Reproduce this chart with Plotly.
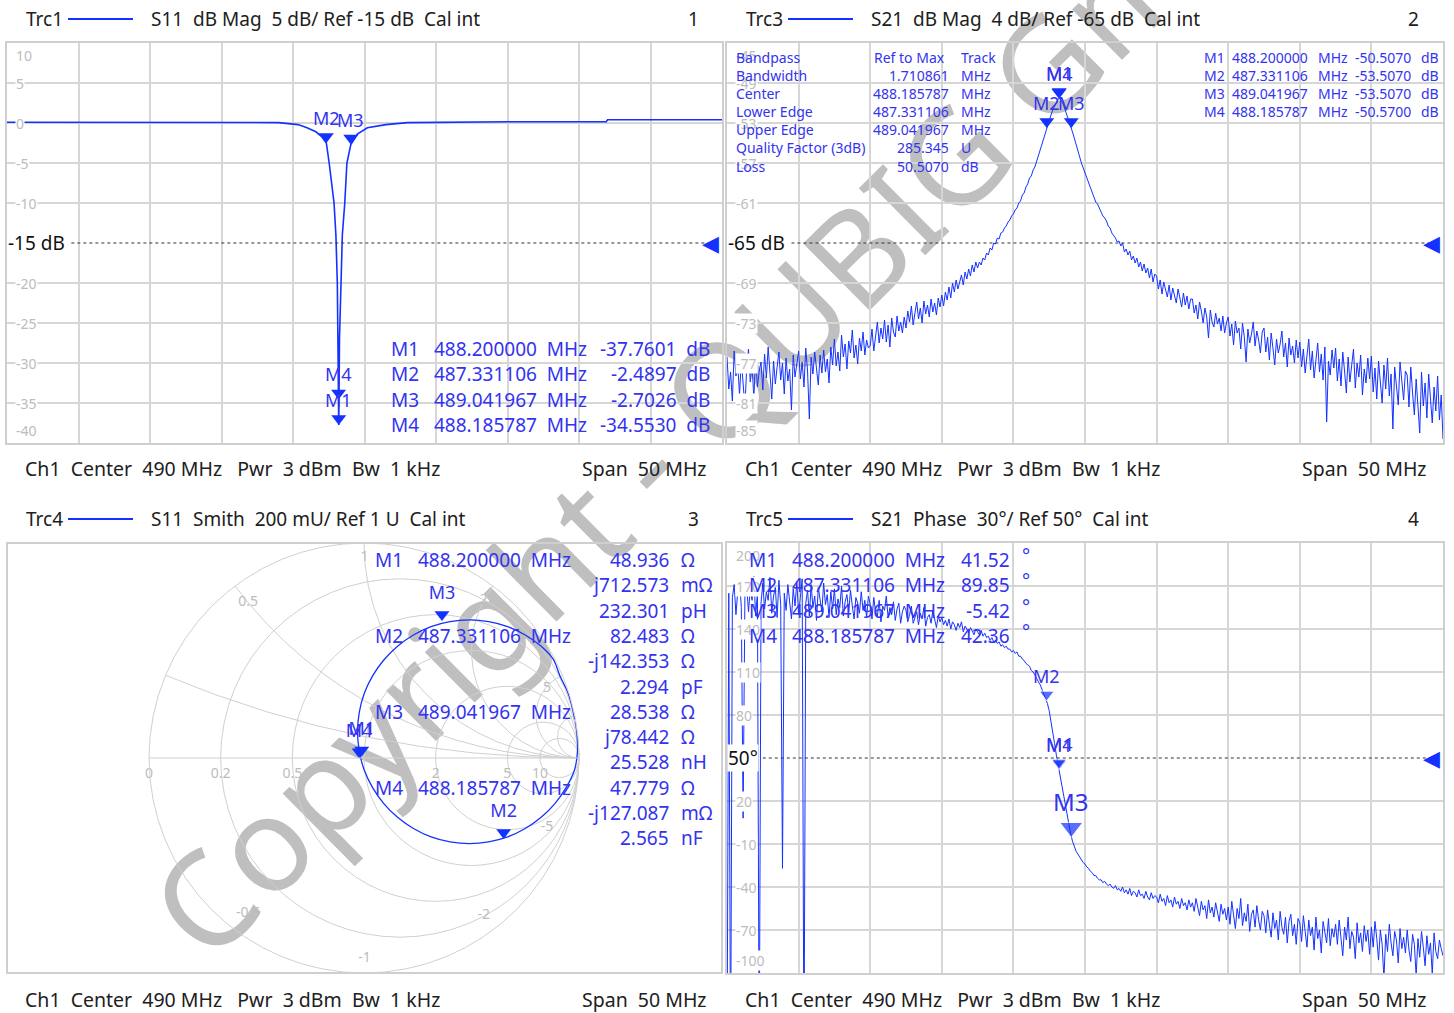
import numpy as np
import plotly.graph_objects as go

W, H = 1454, 1013
FONT = "Noto Sans, DejaVu Sans, sans-serif"
BLUE = "#1432ff"
TBLUE = "#3333f0"
TXT = "#202020"
GRID = "#d6d6d6"
FRAME = "#cfcfcf"
TICKC = "#bcbcbc"

# ---------------- sweep ----------------
F_START, F_STOP, N_PTS = 465.0, 515.0, 401
sweep_mhz = np.linspace(F_START, F_STOP, N_PTS)

# ---------------- Trc1: S11 dB Mag ----------------
s11_freq = [465.0, 475.0, 484.0, 485.35, 485.98, 486.6, 487.0, 487.331106, 487.53, 487.87,
            488.0, 488.1, 488.15, 488.185787, 488.2, 488.25, 488.35, 488.45, 488.62, 488.77,
            489.041967, 489.5, 490.2, 491.5, 493.0, 500.0, 506.9, 507.0, 515.0]
s11_db = [0.10, 0.10, 0.05, -0.20, -0.60, -1.10, -1.70, -2.4897, -5.0, -10.0,
          -14.0, -20.0, -27.0, -34.553, -37.7601, -27.0, -19.0, -14.0, -10.0, -5.0,
          -2.7026, -1.40, -0.60, -0.20, 0.05, 0.15, 0.15, 0.40, 0.40]

# ---------------- Trc3: S21 dB Mag (401 sweep points) ----------------
s21_db = [
    -76.4, -79.6, -77.9, -80.8, -75.8, -78.3, -77.1, -80.2, -76.7, -79.0, -81.4, -77.5, -75.6, -78.9, -77.2, -80.5, -76.3, -79.4, -77.8, -76.9,
    -79.7, -76.1, -78.5, -75.4, -78.0, -80.6, -76.8, -79.1, -77.4, -75.9, -78.7, -77.0, -80.1, -76.5, -78.8, -77.6, -81.7, -76.2, -78.4, -77.3,
    -75.8, -78.6, -76.9, -79.4, -75.5, -77.8, -82.6, -76.4, -78.1, -75.9, -77.5, -79.2, -76.2, -78.0, -75.7, -77.9, -76.6, -79.0, -75.4, -77.2,
    -74.6, -77.3, -75.9, -77.8, -74.2, -76.4, -75.1, -77.6, -74.8, -76.0, -73.7, -76.5, -75.2, -77.1, -74.5, -75.8, -73.9, -76.2, -74.7, -75.5,
    -75.3, -73.6, -75.8, -74.1, -72.9, -75.0, -73.5, -74.6, -72.7, -74.9, -73.2, -75.4, -72.5, -73.9, -74.4, -72.3, -73.8, -72.9, -74.0, -72.4,
    -73.5, -71.8, -72.9, -71.3, -73.2, -72.0, -70.9, -72.6, -71.5, -73.0, -70.8, -72.1, -71.2, -72.4, -70.6, -71.9, -71.0, -72.2, -70.5, -71.4,
    -70.2, -71.3, -69.9, -70.7, -69.4, -70.5, -69.0, -69.9, -68.7, -69.6, -68.9, -68.2, -69.2, -67.9, -68.6, -67.6, -68.3, -67.2, -67.9, -66.9,
    -67.5, -66.9, -67.2, -66.5, -66.7, -66.0, -66.2, -65.5, -65.7, -65.0, -65.1, -64.5, -64.6, -64.0, -63.9, -63.5, -63.3, -62.9, -62.7, -62.3,
    -62.1, -61.7, -61.5, -61.0, -60.8, -60.2, -60.0, -59.4, -59.1, -58.5, -58.3, -57.7, -57.4, -56.8, -56.3, -55.8, -55.2, -54.6, -54.0, -53.3,
    -52.7, -52.2, -51.7, -51.3, -50.9, -50.6, -50.55, -50.8, -51.2, -51.7, -52.2, -52.7, -53.3, -53.9, -54.5, -55.2, -55.8, -56.4, -57.0, -57.5,
    -58.0, -58.6, -59.0, -59.6, -60.0, -60.4, -60.9, -61.1, -61.5, -61.9, -62.3, -62.5, -62.8, -63.3, -63.5, -64.0, -64.2, -64.5, -64.9, -64.8,
    -65.3, -65.0, -65.9, -65.6, -66.2, -65.8, -66.7, -66.3, -67.0, -66.5, -67.4, -66.9, -67.8, -67.1, -68.0, -67.5, -68.5, -67.6, -68.9, -68.1,
    -68.3, -69.6, -68.7, -70.1, -68.9, -69.8, -70.4, -69.2, -70.7, -69.5, -70.2, -71.0, -69.6, -70.5, -71.4, -70.0, -71.2, -70.3, -71.6, -70.6,
    -70.6, -72.0, -71.2, -72.6, -70.9, -71.8, -73.0, -71.5, -72.4, -74.5, -71.7, -72.9, -73.4, -72.0, -73.1, -72.5, -73.8, -72.3, -74.0, -73.0,
    -72.4, -74.3, -73.1, -75.2, -72.8, -74.0, -73.5, -75.6, -73.0, -74.4, -76.9, -73.6, -75.0, -74.1, -72.9, -75.3, -73.8, -74.7, -76.0, -73.9,
    -73.5, -75.9, -74.4, -76.7, -74.0, -75.5, -77.2, -74.6, -76.0, -75.1, -73.8, -76.4, -75.0, -77.4, -74.5, -76.2, -75.3, -77.0, -74.7, -76.5,
    -74.9, -77.4, -75.6, -78.0, -76.2, -74.6, -77.7, -75.8, -78.5, -76.4, -75.0, -77.9, -76.1, -78.7, -75.4, -82.9, -76.8, -78.2, -75.7, -77.5,
    -75.5, -78.8, -76.6, -79.3, -75.9, -77.8, -80.0, -76.4, -78.9, -77.2, -75.6, -79.5, -77.0, -78.4, -76.2, -80.2, -77.6, -79.0, -76.5, -78.6,
    -76.3, -79.9, -77.5, -80.6, -76.8, -78.9, -81.0, -77.2, -79.6, -76.5, -80.3, -78.1, -83.6, -77.4, -79.8, -81.2, -76.9, -79.3, -80.7, -77.8,
    -78.2, -81.4, -77.4, -80.0, -82.2, -78.6, -80.9, -84.0, -77.9, -81.3, -79.0, -82.5, -78.1, -80.6, -83.0, -79.4, -81.8, -78.3, -82.7, -80.2,
    -84.6]

# ---------------- Trc5: S21 Phase (deg, 401 sweep points) ----------------
s21_phase = [
    -175, 165, -176, 162, 171, 150, 166, 175, 155, 8, 163, 170, 152, 168, 160, 177, 149, 165, -170, 158,
    172, 154, 166, 160, 176, 151, 163, 169, 148, 174, 157, -27, 165, 153, 171, 160, 147, 168, 156, 173,
    150, 162, 175, -172, 158, 167, 149, 171, 155, 163, 146, 169, 159, 152, 172, 157, 164, 148, 166, 154,
    168, 150, 161, 155, 170, 149, 159, 164, 152, 167, 156, 147, 162, 158, 151, 166, 153, 160, 148, 163,
    157, 147, 162, 152, 149, 160, 145, 156, 153, 163, 148, 155, 150, 159, 146, 154, 158, 144, 152, 156,
    153, 145, 150, 156, 144, 149, 152, 143, 151, 147, 155, 142, 148, 150, 144, 153, 146, 141, 149, 145,
    148, 143, 146, 142, 147, 140, 145, 143, 139, 144, 141, 145, 138, 142, 140, 137, 141, 138, 136, 140,
    138, 136, 139, 135, 137, 134, 135, 132, 134, 131, 132, 130, 131, 128, 129, 127, 128, 126, 126, 124,
    125, 123, 124, 121, 121, 119, 118, 116, 115, 114, 111, 110, 108, 105, 103, 101, 98, 95, 92, 88,
    83, 76, 68, 60, 52, 45, 38, 31, 24, 17, 10, 3, -3, -8, -12, -15, -17, -19, -21, -23,
    -24, -26, -27, -29, -30, -32, -32, -34, -35, -35, -37, -36, -38, -39, -38, -40, -41, -39, -42, -41,
    -43, -40, -44, -42, -45, -41, -46, -43, -44, -47, -42, -46, -45, -48, -43, -47, -49, -44, -48, -46,
    -47, -51, -45, -50, -48, -53, -46, -51, -49, -54, -47, -52, -50, -55, -48, -53, -51, -56, -49, -54,
    -51, -57, -48, -55, -60, -50, -56, -53, -62, -49, -58, -54, -61, -51, -57, -64, -52, -59, -55, -63,
    -54, -66, -50, -60, -69, -55, -62, -48, -67, -58, -64, -52, -71, -59, -56, -68, -53, -63, -70, -57,
    -60, -72, -56, -66, -75, -58, -69, -63, -77, -57, -68, -73, -61, -79, -64, -59, -74, -66, -80, -62,
    -65, -78, -60, -71, -82, -63, -74, -68, -84, -61, -76, -70, -86, -64, -73, -79, -62, -81, -69, -75,
    -66, -80, -63, -74, -88, -68, -77, -61, -83, -71, -75, -90, -65, -79, -72, -85, -67, -78, -70, -87,
    -68, -82, -64, -76, -91, -70, -80, -104, -73, -85, -66, -79, -88, -71, -77, -93, -69, -83, -75, -86,
    -70, -84, -92, -73, -80, -102, -76, -89, -71, -82, -95, -74, -87, -79, -101, -72, -85, -90, -77, -83,
    -88]

# ---------------- Trc4: S11 Smith (reflection coefficient) ----------------
smith_gamma_re = [0.983, 0.990, 0.993, 0.979, 0.940, 0.888, 0.824, 0.750, 0.668, 0.580,
                  0.490, 0.400, 0.312, 0.230, 0.156, 0.092, 0.040, 0.001, -0.022, -0.030,
                  -0.022, 0.001, 0.040, 0.092, 0.156, 0.230, 0.312, 0.400, 0.490, 0.580,
                  0.668, 0.750, 0.824, 0.880, 0.912, 0.950, 0.972, 0.980]
smith_gamma_im = [0.170, 0.120, 0.032, -0.056, -0.138, -0.212, -0.276, -0.328, -0.367, -0.390,
                  -0.398, -0.390, -0.367, -0.328, -0.276, -0.212, -0.138, -0.056, 0.032, 0.122,
                  0.212, 0.300, 0.382, 0.456, 0.520, 0.572, 0.611, 0.634, 0.642, 0.634,
                  0.611, 0.572, 0.520, 0.460, 0.380, 0.300, 0.220, 0.180]
Z0 = 50.0

# ---------------- markers ----------------
mk_names = ["M1", "M2", "M3", "M4"]
mk_freq = [488.200000, 487.331106, 489.041967, 488.185787]
mk_freq_txt = ["488.200000", "487.331106", "489.041967", "488.185787"]
mk_s11_db = [-37.7601, -2.4897, -2.7026, -34.5530]
mk_s21_db = [-50.5070, -53.5070, -53.5070, -50.5700]
mk_phase = [41.52, 89.85, -5.42, 42.36]
mk_z_re = [48.936, 82.483, 28.538, 47.779]
mk_z_im = [0.712573, -142.353, 78.442, -0.127087]
mk_z_im_txt = ["j712.573", "-j142.353", "j78.442", "-j127.087"]
mk_z_im_unit = ["mΩ", "Ω", "Ω", "mΩ"]
mk_lc_txt = ["232.301", "2.294", "25.528", "2.565"]
mk_lc_unit = ["pH", "pF", "nH", "nF"]

bp_labels = ["Bandpass", "Bandwidth", "Center", "Lower Edge", "Upper Edge", "Quality Factor (3dB)", "Loss"]
bp_values = ["Ref to Max", "1.710861", "488.185787", "487.331106", "489.041967", "285.345", "50.5070"]
bp_units = ["Track", "MHz", "MHz", "MHz", "MHz", "U", "dB"]

# axis settings
y1_ticks = [10, 5, 0, -5, -10, -15, -20, -25, -30, -35, -40]
y2_ticks = [-45, -49, -53, -57, -61, -65, -69, -73, -77, -81, -85]
y3_ticks = [200, 170, 140, 110, 80, 50, 20, -10, -40, -70, -100]
refs = [-15, -65, 50]

smith_real_lbl = [0, 0.2, 0.5, 2, 5, 10]
smith_imag_lbl_re = [0.065, 0.068, 0.21, 1.33, 0.065, 0.068, 0.21, 1.33]
smith_imag_lbl_im = [0.5, 1.0, 2.0, 5.1, -0.5, -1.0, -2.0, -5.1]
smith_imag_lbl_txt = ["0.5", "1", "2", "5", "-0.5", "-1", "-2", "-5"]

WATERMARK = "Copyright - QUBIG GmbH"

# ======================================================================
fig = go.Figure()
annotations = []
shapes = []


def px(x):
    return x / W


def py(y):
    return 1 - y / H


def ann(x, y, text, size=17, color=TXT, xanchor="left", yanchor="middle", **kw):
    annotations.append(dict(x=px(x), y=py(y), xref="paper", yref="paper", text=text,
                            showarrow=False, xanchor=xanchor, yanchor=yanchor,
                            font=dict(family=FONT, size=size, color=color), **kw))


# watermark: label of an invisible diagonal line, drawn below the traces
wm_cx, wm_cy, wm_ang = 739, 381, 44.8
dxw, dyw = 40 * np.cos(np.radians(wm_ang)), 40 * np.sin(np.radians(wm_ang))
shapes.append(dict(type="line", xref="paper", yref="paper", layer="below",
                   x0=px(wm_cx - dxw), y0=py(wm_cy + dyw), x1=px(wm_cx + dxw), y1=py(wm_cy - dyw),
                   line=dict(color="rgba(0,0,0,0)", width=0),
                   label=dict(text=WATERMARK, textangle=-wm_ang, textposition="middle",
                              yanchor="middle", xanchor="center", padding=0,
                              font=dict(family=FONT, size=132, color="#bfbfbf"))))

# traces
fig.add_trace(go.Scatter(x=s11_freq, y=s11_db, mode="lines", line=dict(color=BLUE, width=1.6),
                         xaxis="x", yaxis="y", hoverinfo="skip"))
fig.add_trace(go.Scatter(x=sweep_mhz, y=s21_db, mode="lines", line=dict(color=BLUE, width=1.0),
                         xaxis="x2", yaxis="y2", hoverinfo="skip"))
fig.add_trace(go.Scatter(x=sweep_mhz, y=s21_phase, mode="lines", line=dict(color=BLUE, width=1.0),
                         xaxis="x3", yaxis="y3", hoverinfo="skip"))

g = np.array(smith_gamma_re) + 1j * np.array(smith_gamma_im)
z = (1 + g) / (1 - g)
fig.add_trace(go.Scattersmith(real=z.real, imag=z.imag, mode="lines", subplot="smith",
                              line=dict(color=BLUE, width=1.3, shape="spline"), hoverinfo="skip"))

MS = 13
for xa, ya, vals in [("x", "y", mk_s11_db), ("x2", "y2", mk_s21_db)]:
    fig.add_trace(go.Scatter(x=mk_freq, y=vals, mode="markers", xaxis=xa, yaxis=ya,
                             marker=dict(symbol="triangle-up", angle=180, size=MS, standoff=MS / 2,
                                         color=BLUE), hoverinfo="skip"))
ms3 = [20 if n == "M3" else MS for n in mk_names]
fig.add_trace(go.Scatter(x=mk_freq, y=mk_phase, mode="markers", xaxis="x3", yaxis="y3",
                         marker=dict(symbol="triangle-up", angle=180, size=ms3,
                                     standoff=[s / 2 for s in ms3], color=BLUE), hoverinfo="skip"))
zr = [v / Z0 for v in mk_z_re]
zi = [v / Z0 for v in mk_z_im]
fig.add_trace(go.Scattersmith(real=zr, imag=zi, mode="markers", subplot="smith",
                              marker=dict(symbol="triangle-up", angle=180, size=MS, standoff=MS / 2,
                                          color=BLUE), hoverinfo="skip"))
fig.add_trace(go.Scattersmith(real=zr, imag=zi, mode="markers+text", subplot="smith", text=mk_names,
                              textposition="top center",
                              textfont=dict(family=FONT, size=18, color=TBLUE),
                              marker=dict(size=26, opacity=0), hoverinfo="skip"))

# smith grid labels
fig.add_trace(go.Scattersmith(real=smith_real_lbl, imag=[0] * len(smith_real_lbl), mode="markers+text",
                              subplot="smith", text=[f"{v:g}" for v in smith_real_lbl],
                              textposition="bottom center", marker=dict(size=14, opacity=0),
                              textfont=dict(family=FONT, size=14, color=TICKC), hoverinfo="skip"))
fig.add_trace(go.Scattersmith(real=smith_imag_lbl_re, imag=smith_imag_lbl_im, mode="text",
                              subplot="smith", text=smith_imag_lbl_txt,
                              textposition="middle center",
                              textfont=dict(family=FONT, size=14, color=TICKC), hoverinfo="skip"))

# marker labels on cartesian panels
for xa, ya, vals in [("x", "y", mk_s11_db), ("x2", "y2", mk_s21_db)]:
    for n, f, v in zip(mk_names, mk_freq, vals):
        annotations.append(dict(x=f, y=v, xref=xa, yref=ya, text=n, showarrow=False, yshift=25,
                                font=dict(family=FONT, size=18, color=TBLUE)))
for n, f, v in zip(mk_names, mk_freq, mk_phase):
    big = n == "M3"
    annotations.append(dict(x=f, y=v, xref="x3", yref="y3", text=n, showarrow=False,
                            yshift=36 if big else 25,
                            font=dict(family=FONT, size=24 if big else 18, color=TBLUE)))

# ---------------- axes ----------------
TL = dict(x=[px(7), px(722)], y=[py(443), py(43)])
TR = dict(x=[px(727), px(1443)], y=[py(443), py(43)])
BR = dict(x=[px(727), px(1443)], y=[py(973), py(543)])


def xax(dom, anchor):
    return dict(domain=dom, anchor=anchor, range=[F_START, F_STOP], tick0=F_START, dtick=5,
                showticklabels=False, ticks="", showgrid=True, gridcolor=GRID, gridwidth=1.5,
                zeroline=False, showline=True, mirror=True, linecolor=FRAME, linewidth=2,
                fixedrange=True)


def yax(dom, anchor, ticks, ref):
    return dict(domain=dom, anchor=anchor, range=[min(ticks), max(ticks)],
                tickmode="array", tickvals=[t for t in ticks if t != ref],
                showticklabels=False, ticks="", showgrid=True, gridcolor=GRID, gridwidth=1.5,
                zeroline=False, showline=True, mirror=True, linecolor=FRAME, linewidth=2,
                fixedrange=True)


layout_axes = dict(
    xaxis=xax(TL["x"], "y"), yaxis=yax(TL["y"], "x", y1_ticks, refs[0]),
    xaxis2=xax(TR["x"], "y2"), yaxis2=yax(TR["y"], "x2", y2_ticks, refs[1]),
    xaxis3=xax(BR["x"], "y3"), yaxis3=yax(BR["y"], "x3", y3_ticks, refs[2]),
)

# y tick labels (white boxes over grid lines)
for xa, ya, ticks, ref in [("x", "y", y1_ticks, refs[0]), ("x2", "y2", y2_ticks, refs[1]),
                           ("x3", "y3", y3_ticks, refs[2])]:
    for i, t in enumerate(ticks):
        if t == ref:
            continue
        ya_anchor = "top" if i == 0 else ("bottom" if i == len(ticks) - 1 else "middle")
        annotations.append(dict(x=0, y=t, xref=f"{xa} domain", yref=ya, text=f"{t:g}",
                                showarrow=False, xanchor="left", yanchor=ya_anchor, xshift=8,
                                yshift=-2 if i == 0 else (2 if i == len(ticks) - 1 else 0),
                                bgcolor="white", borderpad=0,
                                font=dict(family=FONT, size=14, color=TICKC)))

# reference lines, labels, arrows
ref_txt = ["-15 dB", "-65 dB", "50°"]
ref_start = [0.09, 0.09, 0.05]
for (xa, ya), r, txt, s in zip([("x", "y"), ("x2", "y2"), ("x3", "y3")], refs, ref_txt, ref_start):
    shapes.append(dict(type="line", xref=f"{xa} domain", yref=ya, x0=s, x1=0.985, y0=r, y1=r,
                       line=dict(color="#333333", width=1, dash="dot")))
    annotations.append(dict(x=0, y=r, xref=f"{xa} domain", yref=ya, text=txt, showarrow=False,
                            xanchor="left", xshift=0, bgcolor="white", borderpad=0,
                            font=dict(family=FONT, size=19, color="#111111")))
    annotations.append(dict(x=1, y=r, xref=f"{xa} domain", yref=ya, text="◀", showarrow=False,
                            xanchor="right", xshift=-1,
                            font=dict(family="DejaVu Sans", size=22, color=BLUE)))

# smith panel frame
shapes.append(dict(type="rect", xref="paper", yref="paper", x0=px(7), x1=px(722), y0=py(973),
                   y1=py(543), line=dict(color=FRAME, width=2)))

# ---------------- headers / footers ----------------
headers = [
    (19, 24, "Trc1", "S11\u00a0\u00a0dB Mag\u00a0\u00a05 dB/ Ref -15 dB\u00a0\u00a0Cal int", "1", 0),
    (19, 744, "Trc3", "S21\u00a0\u00a0dB Mag\u00a0\u00a04 dB/ Ref -65 dB\u00a0\u00a0Cal int", "2", 720),
    (519, 24, "Trc4", "S11\u00a0\u00a0Smith\u00a0\u00a0200 mU/ Ref 1 U\u00a0\u00a0Cal int", "3", 0),
    (519, 744, "Trc5", "S21\u00a0\u00a0Phase\u00a0\u00a030°/ Ref 50°\u00a0\u00a0Cal int", "4", 720),
]
for y, x0, trc, desc, num, off in headers:
    ann(x0, y, trc, size=19)
    shapes.append(dict(type="line", xref="paper", yref="paper", x0=px(68 + off), x1=px(133 + off),
                       y0=py(y), y1=py(y), line=dict(color=BLUE, width=2.2)))
    ann(149 + off, y, desc, size=19)
    ann(701 + off, y, num, size=19, xanchor="right")

footer = "Ch1\u00a0\u00a0Center\u00a0\u00a0490 MHz\u00a0\u00a0\u00a0Pwr\u00a0\u00a03 dBm\u00a0\u00a0Bw\u00a0\u00a01 kHz"
for y in (469, 999):
    for off in (0, 720):
        ann(23 + off, y, footer, size=19.5)
        ann(709 + off, y, "Span\u00a0\u00a050 MHz", size=19.5, xanchor="right")

# ---------------- marker info tables ----------------
for i, (n, ft, v) in enumerate(zip(mk_names, mk_freq_txt, mk_s11_db)):
    y = 349 + 25.3 * i
    ann(389, y, n, size=19, color=TBLUE)
    ann(432, y, ft + "\u00a0\u00a0MHz", size=19, color=TBLUE)
    ann(712, y, f"{v:.4f}\u00a0\u00a0dB", size=19, color=TBLUE, xanchor="right")

for i, (a, b, c) in enumerate(zip(bp_labels, bp_values, bp_units)):
    y = 57 + 18.2 * i
    ann(734, y, a, size=14, color=TBLUE)
    if i == 0:
        ann(872, y, b, size=14, color=TBLUE)
    else:
        ann(951, y, b, size=14, color=TBLUE, xanchor="right")
    ann(959, y, c, size=14, color=TBLUE)
for i, (n, ft, v) in enumerate(zip(mk_names, mk_freq_txt, mk_s21_db)):
    y = 57 + 18.2 * i
    ann(1202, y, n, size=14, color=TBLUE)
    ann(1230, y, ft, size=14, color=TBLUE)
    ann(1316, y, "MHz", size=14, color=TBLUE)
    ann(1413, y, f"{v:.4f}", size=14, color=TBLUE, xanchor="right")
    ann(1419, y, "dB", size=14, color=TBLUE)

for i in range(4):
    y0 = 560 + 75.9 * i
    ann(373, y0, mk_names[i], size=19, color=TBLUE)
    ann(416, y0, mk_freq_txt[i] + "\u00a0\u00a0MHz", size=19, color=TBLUE)
    rows = [(f"{mk_z_re[i]:.3f}", "Ω"), (mk_z_im_txt[i], mk_z_im_unit[i]), (mk_lc_txt[i], mk_lc_unit[i])]
    for k, (val, unit) in enumerate(rows):
        yy = y0 + 25.3 * k
        ann(671, yy, val, size=19, color=TBLUE, xanchor="right")
        ann(679, yy, unit, size=19, color=TBLUE)

for i, (n, ft, v) in enumerate(zip(mk_names, mk_freq_txt, mk_phase)):
    y = 560 + 25.3 * i
    ann(747, y, n, size=19, color=TBLUE)
    ann(790, y, ft + "\u00a0\u00a0MHz", size=19, color=TBLUE)
    ann(1012, y, f"{v:.2f}", size=19, color=TBLUE, xanchor="right")
    ann(1020, y - 4, "°", size=19, color=TBLUE)

fig.update_layout(
    width=W, height=H, margin=dict(l=0, r=0, t=0, b=0), autosize=False,
    paper_bgcolor="white", plot_bgcolor="rgba(0,0,0,0)", showlegend=False,
    annotations=annotations, shapes=shapes,
    smith=dict(domain=dict(x=[px(149), px(579)], y=[py(973), py(543)]), bgcolor="rgba(0,0,0,0)",
               realaxis=dict(tickvals=[0.2, 0.5, 1, 2, 5, 10], showticklabels=False, ticks="",
                             gridcolor="#d0d0d0", linecolor="#d0d0d0", gridwidth=1),
               imaginaryaxis=dict(tickvals=[0.2, 0.5, 1, 2, 5, 10], showticklabels=False, ticks="",
                                  gridcolor="#d0d0d0", linecolor="#d0d0d0", gridwidth=1)),
    **layout_axes,
)

fig.write_html("out.html", config={"displayModeBar": False})
